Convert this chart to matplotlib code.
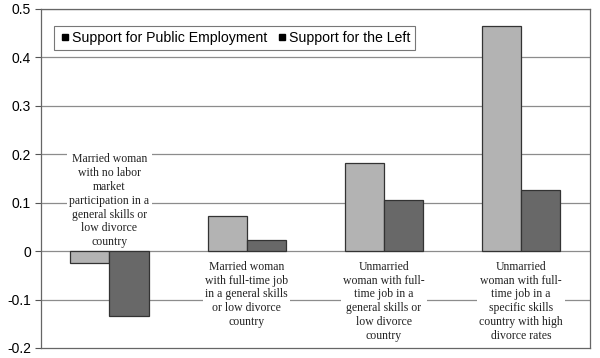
import numpy as np
import matplotlib.pyplot as plt
from matplotlib.lines import Line2D

categories = [
    "Married woman\nwith no labor\nmarket\nparticipation in a\ngeneral skills or\nlow divorce\ncountry",
    "Married woman\nwith full-time job\nin a general skills\nor low divorce\ncountry",
    "Unmarried\nwoman with full-\ntime job in a\ngeneral skills or\nlow divorce\ncountry",
    "Unmarried\nwoman with full-\ntime job in a\nspecific skills\ncountry with high\ndivorce rates",
]
public_employment = [-0.025, 0.073, 0.181, 0.465]
support_left = [-0.135, 0.023, 0.106, 0.126]
series_names = ["Support for Public Employment", "Support for the Left"]
yticks = [0.5, 0.4, 0.3, 0.2, 0.1, 0, -0.1, -0.2]
ytick_labels = ["0.5", "0.4", "0.3", "0.2", "0.1", "0", "-0.1", "-0.2"]

fig = plt.figure(figsize=(6, 3.58), dpi=100)
ax = fig.add_axes([0.068, 0.028, 0.915, 0.947])

x = np.arange(len(categories)) + 0.5
w = 0.285
ax.bar(x - w / 2, public_employment, w, color="#b3b3b3", edgecolor="#333333", linewidth=0.9, zorder=3)
ax.bar(x + w / 2, support_left, w, color="#686868", edgecolor="#333333", linewidth=0.9, zorder=3)

for t in yticks[:-1]:
    ax.axhline(t, color="#8c8c8c", linewidth=0.9, zorder=1)

ax.set_xlim(0, 4)
ax.set_ylim(-0.2, 0.5)
ax.set_xticks([])
ax.set_yticks(yticks)
ax.set_yticklabels(ytick_labels, fontsize=10, family="Liberation Sans")
ax.tick_params(axis="y", length=4, color="#555555", pad=3)
for s in ax.spines.values():
    s.set_color("#666666")
    s.set_linewidth(0.9)

# category labels with white boxes over gridlines
label_y = [0.006, -0.02, -0.02, -0.02]
label_va = ["bottom", "top", "top", "top"]
for i, lab in enumerate(categories):
    ax.text(x[i], label_y[i], lab, ha="center", va=label_va[i], family="Liberation Serif",
            fontsize=8.5, color="#222222", linespacing=1.2, zorder=4,
            bbox=dict(facecolor="white", edgecolor="none", pad=1.5))

handles = [Line2D([], [], marker="s", color="black", linestyle="none", markersize=5)
           for _ in series_names]
leg = ax.legend(handles, series_names, loc="upper left", bbox_to_anchor=(0.012, 0.97),
                ncol=2, prop={"family": "Liberation Sans", "size": 10.2}, frameon=True,
                fancybox=False, handletextpad=0.1, columnspacing=0.6, handlelength=0.8,
                borderpad=0.35)
leg.get_frame().set_edgecolor("#555555")
leg.get_frame().set_linewidth(0.8)

fig.savefig("out.png", dpi=100)
